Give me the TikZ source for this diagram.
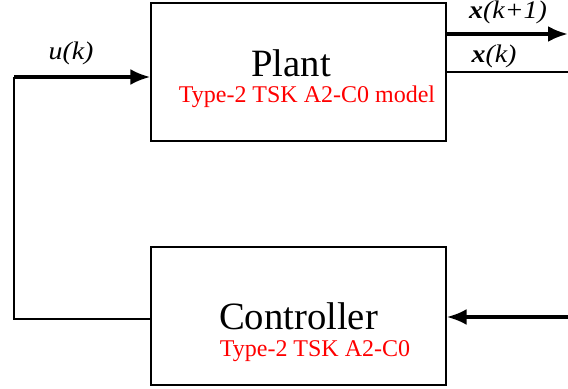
\documentclass[tikz,border=0pt]{standalone}
\usepackage{fontspec}
\setmainfont{Liberation Serif}
\newfontfamily\lblfont{Liberation Serif}[FakeStretch=1.1]
\usetikzlibrary{arrows.meta,positioning}
\definecolor{NoteRed}{RGB}{255,0,0}

\begin{document}
\begin{tikzpicture}[x=0.75pt,y=-0.75pt,
  block/.style={draw,line width=1.2pt,minimum width=221pt,minimum height=103.5pt,inner sep=0pt},
  title/.style={font=\fontsize{29}{31}\selectfont,anchor=base,inner sep=1pt},
  note/.style={text=NoteRed,font=\fontsize{18}{20}\selectfont,anchor=base,inner sep=1pt},
  sig/.style={font=\lblfont\fontsize{19}{21}\selectfont\itshape,anchor=base,inner sep=1pt},
  wire/.style={line width=1.1pt},
  flow/.style={line width=2.6pt,-{Latex[length=15pt,width=12pt]}}]
\useasboundingbox (0,0) rectangle (568,389);
% blocks
\node[block] (plant) at (298.5,72) {};
\node[block] (ctrl) at (298.5,316) {};
\node[title] (plantname) at (291,76) {Plant};
\node[note] (plantnote) at (307,102) {Type-2 TSK A2-C0 model};
\node[title] (ctrlname) at (298.5,329) {Controller};
\node[note] (ctrlnote) at (315,356) {Type-2 TSK A2-C0};
% signals
\node[sig] (ulbl) at (71,60) {u(k)};
\node[sig] (xnextlbl) at (508,18) {\textbf{x}(k+1)};
\node[sig] (xlbl) at (494,62) {\textbf{x}(k)};
\coordinate (utop) at (14,77);
\coordinate (ubot) at (14,319);
\coordinate (xnext) at (568,34);
\coordinate (xnow) at (568,72);
\coordinate (fb) at (568,317);
\draw[wire] (ubot -| ctrl.west) -- (ubot) -- (utop);
\draw[flow] (utop) -- (utop -| plant.west);
\draw[flow] (xnext -| plant.east) -- (xnext);
\draw[wire] (xnow -| plant.east) -- (xnow);
\draw[flow] (fb) -- (fb -| ctrl.east);
\end{tikzpicture}
\end{document}
